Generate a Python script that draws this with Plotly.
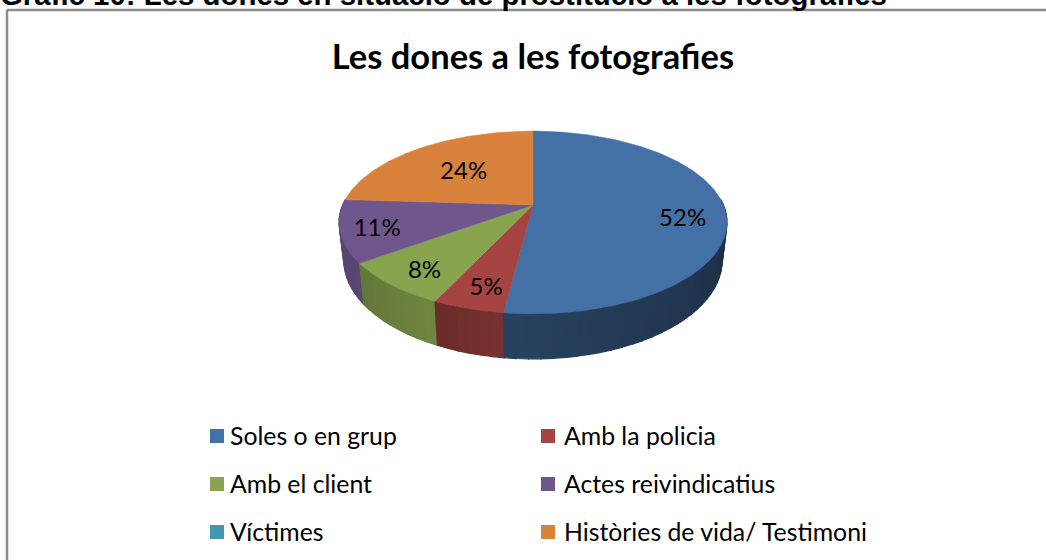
import math
import plotly.graph_objects as go

categories = ["Soles o en grup", "Amb la policia", "Amb el client",
              "Actes reivindicatius", "Víctimes", "Històries de vida/ Testimoni"]
values = [52, 5, 8, 11, 0, 24]
colors = ["#4471A5", "#A54442", "#88A44E", "#6F578D", "#4198AF", "#D8823C"]
chart_title = "Les dones a les fotografies"
page_heading = "Gràfic 10: Les dones en situació de prostitució a les fotografies"

# Styling of the tilted disc (projection of a circle seen in perspective)
CX, CY, RX, RY, PERSP, DEPTH, BOTTOM_SCALE = 533, 205, 190.4, 88, 0.191, 36.5, 0.975
side_shade = [(0.38, 0.58), (0.73, 0.64), (0.82, 0.72), (0.80, 0.78), (1, 1), (0.8, 0.8)]
label_pos = [(0.78, 11), (0.76, 9), (0.79, 6.6), (0.815, 4), None, (0.575, 2.4)]
legend_xy = [(217, 436), (548, 436), (217, 484), (548, 484), (217, 532), (548, 532)]
legend_text_gap = [13, 16, 13, 16, 13, 16]
LEGEND_TEXT_DY = 3
FONT = "Lato"


def project(frac, r=1.0):
    t = 2 * math.pi * frac
    X, F = r * math.sin(t), -r * math.cos(t)
    w = 1 - PERSP * F
    return X, F, w


def top(frac, r=1.0):
    X, F, w = project(frac, r)
    return CX + RX * X / w, CY + RY * F / w


def bottom(frac):
    X, F, w = project(frac)
    return CX + BOTTOM_SCALE * RX * X / w, CY + RY * F / w + DEPTH / w


def shade(hex_color, k):
    r, g, b = [int(hex_color[i:i + 2], 16) for i in (1, 3, 5)]
    return f"rgb({r * k:.0f},{g * k:.0f},{b * k:.0f})"


total = sum(values)
bounds = [0]
for v in values:
    bounds.append(bounds[-1] + v / total)

fig = go.Figure()

# Visible rim of every slice, as narrow bands painted back to front
bands = []
for i, v in enumerate(values):
    if v == 0:
        continue
    a, b = bounds[i], bounds[i + 1]
    lo, hi = max(a, 0.24), min(b, 0.76)
    if hi <= lo:
        continue
    n = max(2, int((hi - lo) * 120))
    for j in range(n):
        f0 = lo + (hi - lo) * j / n
        f1 = lo + (hi - lo) * (j + 1) / n
        s0, s1 = side_shade[i]
        k = s0 + (s1 - s0) * (j + 0.5) / n
        bands.append((project((f0 + f1) / 2)[1], f0, f1, shade(colors[i], k)))
for _, f0, f1, col in sorted(bands):
    pts = [top(f0 + (f1 - f0) * q / 3) for q in range(4)] + \
          [bottom(f1 - (f1 - f0) * q / 3) for q in range(4)]
    fig.add_trace(go.Scatter(
        x=[p[0] for p in pts] + [pts[0][0]], y=[p[1] for p in pts] + [pts[0][1]],
        mode="lines", fill="toself", fillcolor=col, line=dict(color=col, width=1.2),
        hoverinfo="skip", showlegend=False))

# Top faces
for i, v in enumerate(values):
    if v == 0:
        continue
    n = max(4, int(v * 4))
    rim = [top(bounds[i] + (bounds[i + 1] - bounds[i]) * q / n) for q in range(n + 1)]
    xs = [CX] + [p[0] for p in rim] + [CX]
    ys = [CY] + [p[1] for p in rim] + [CY]
    fig.add_trace(go.Scatter(
        x=xs, y=ys, mode="lines", fill="toself", fillcolor=colors[i],
        line=dict(color=colors[i], width=0.5), name=categories[i],
        hoverinfo="name", showlegend=False))

# Percentage labels
for i, v in enumerate(values):
    if label_pos[i] is None:
        continue
    r, dy = label_pos[i]
    x, y = top((bounds[i] + bounds[i + 1]) / 2, r)
    fig.add_trace(go.Scatter(
        x=[x], y=[y + dy], mode="text", text=[f"{v}%"], textposition="middle center",
        textfont=dict(family=FONT, size=24, color="#000000"),
        hoverinfo="skip", showlegend=False))

# Legend block
for i, name in enumerate(categories):
    lx, ly = legend_xy[i]
    fig.add_trace(go.Scatter(
        x=[lx], y=[ly], mode="markers",
        marker=dict(symbol="square", size=14, color=colors[i]),
        hoverinfo="skip", showlegend=False))
    fig.add_trace(go.Scatter(
        x=[lx + legend_text_gap[i]], y=[ly + LEGEND_TEXT_DY], mode="text", text=[name],
        textposition="middle right",
        textfont=dict(family=FONT, size=24.8, color="#000000"),
        hoverinfo="skip", showlegend=False))

fig.update_layout(
    width=1046, height=560, autosize=False,
    margin=dict(l=0, r=0, t=0, b=0),
    paper_bgcolor="#FFFFFF", plot_bgcolor="#FFFFFF",
    xaxis=dict(range=[0, 1046], visible=False, fixedrange=True),
    yaxis=dict(range=[560, 0], visible=False, fixedrange=True),
    showlegend=False,
    title=dict(text=f"<b>{chart_title}</b>", x=533 / 1046, xanchor="center",
               y=1 - 57 / 560, yanchor="middle",
               font=dict(family=FONT, size=34.5, color="#000000")),
    annotations=[dict(text=f"<b>{page_heading}</b>", x=0, y=1 + 6 / 560, xref="paper", yref="paper",
                      xanchor="left", yanchor="middle", showarrow=False, borderpad=0, borderwidth=0,
                      font=dict(family="Liberation Sans", size=29.4, color="#000000"))],
    shapes=[
        dict(type="line", xref="x", yref="y", x0=7, x1=1046, y0=10, y1=10,
             line=dict(color="#8C8C8C", width=2.5)),
        dict(type="line", xref="x", yref="y", x0=7, x1=7, y0=10, y1=560,
             line=dict(color="#8C8C8C", width=2.5)),
    ],
)
fig.write_html("out.html", config={"displayModeBar": False},
               post_script="document.body.style.margin='0';document.documentElement.style.overflow='hidden';")
